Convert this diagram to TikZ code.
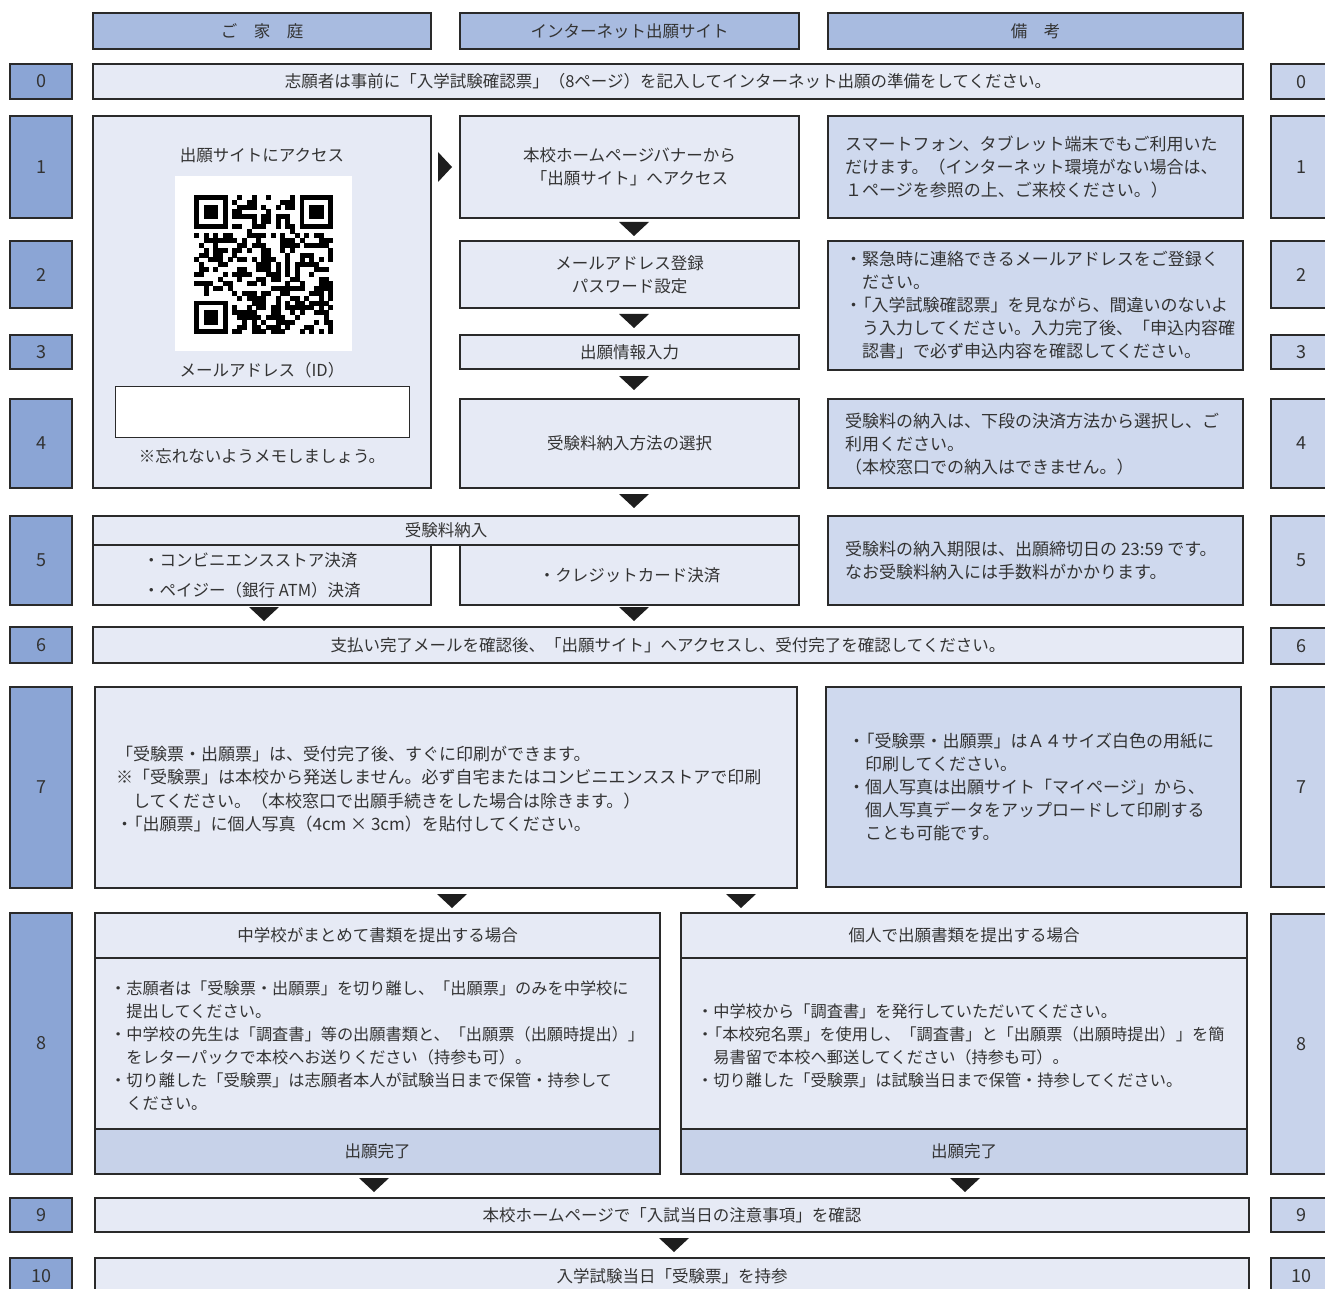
\documentclass[tikz,border=0pt]{standalone}
\usepackage{fontspec}
\setmainfont{Noto Sans CJK JP}
\usetikzlibrary{fit}
\definecolor{numL}{HTML}{8BA5D5}
\definecolor{numR}{HTML}{C8D3EB}
\definecolor{headc}{HTML}{A8BBE0}
\definecolor{mainc}{HTML}{E6EAF5}
\definecolor{remc}{HTML}{CFD9EE}
\definecolor{bandc}{HTML}{C7D2E9}
\definecolor{bordc}{HTML}{2A2A2A}
\definecolor{txtc}{HTML}{333333}
\definecolor{tric}{HTML}{1E1E1E}
\newcommand\bk{\kern-0.45em}
\tikzset{
 box/.style={draw=bordc, line width=1.3pt, inner sep=0pt},
 numl/.style={box, fill=numL},
 numr/.style={box, fill=numR},
 headbox/.style={box, fill=headc},
 mainbox/.style={box, fill=mainc},
 rembox/.style={box, fill=remc},
 bandbox/.style={box, fill=bandc},
 whitebox/.style={box, fill=white, line width=1pt},
 qrbg/.style={box, fill=white, draw=none},
 txt/.style={inner sep=0pt, text=txtc, font=\fontsize{16.5}{23}\selectfont, align=left},
 ctxt/.style={txt, align=center},
 remtxt/.style={txt, font=\fontsize{17}{23}\selectfont},
 bigtxt/.style={txt, font=\fontsize{17}{23.3}\selectfont},
 numtxt/.style={txt, font=\fontsize{18}{20}\selectfont},
 smalltxt/.style={txt, font=\fontsize{16.2}{23}\selectfont},
 paytxt/.style={txt, font=\fontsize{16.5}{30}\selectfont},
 dtri/.pic={\fill[tric] (-15,-7) -- (15,-7) -- (0,7) -- cycle;},
 rtri/.pic={\fill[tric] (-7,-15) -- (7,0) -- (-7,15) -- cycle;}
}
% name, style, x1, y1, x2, y2, text (text placed centred in a separate node)
\newcommand\flbox[7]{\node[#2, fit={(#3,#4) (#5,#6)}] (#1) {};
 \node[ctxt] (#1t) at (#1.center) {#7};}
\newcommand\numbox[7]{\node[#2, fit={(#3,#4) (#5,#6)}] (#1) {};
 \node[numtxt] (#1t) at ({(#3+#5)/2},{(#4+#6)/2}) {#7};}
\begin{document}
\begin{tikzpicture}[x=1pt,y=-1pt]
\useasboundingbox (0,0) rectangle (1325,1289);
\clip (0,0) rectangle (1325,1289);
\fill[white] (0,0) rectangle (1325,1289);

% headers
\flbox{hA}{headbox}{93}{13}{431}{49}{ご　家　庭}
\flbox{hB}{headbox}{460}{13}{799}{49}{インターネット出願サイト}
\flbox{hC}{headbox}{828}{13}{1243}{49}{備　考}

% number boxes, left
\numbox{nL0}{numl}{10}{64}{72}{99}{0}
\numbox{nL1}{numl}{10}{116}{72}{218}{1}
\numbox{nL2}{numl}{10}{241}{72}{308}{2}
\numbox{nL3}{numl}{10}{335}{72}{369}{3}
\numbox{nL4}{numl}{10}{399}{72}{488}{4}
\numbox{nL5}{numl}{10}{516}{72}{605}{5}
\numbox{nL6}{numl}{10}{627}{72}{663}{6}
\numbox{nL7}{numl}{10}{687}{72}{888}{7}
\numbox{nL8}{numl}{10}{913}{72}{1174}{8}
\numbox{nL9}{numl}{10}{1198}{72}{1232}{9}
\node[numl, fit={(10,1258) (72,1300)}] (nL10) {};
\node[numtxt] (nL10t) at (41,1276) {10};

% number boxes, right
\node[numr, fit={(1271,64) (1335,99)}] (nR0) {};
\node[numr, fit={(1271,116) (1335,218)}] (nR1) {};
\node[numr, fit={(1271,241) (1335,308)}] (nR2) {};
\node[numr, fit={(1271,335) (1335,369)}] (nR3) {};
\node[numr, fit={(1271,399) (1335,488)}] (nR4) {};
\node[numr, fit={(1271,516) (1335,605)}] (nR5) {};
\node[numr, fit={(1271,628) (1335,664)}] (nR6) {};
\node[numr, fit={(1271,687) (1335,887)}] (nR7) {};
\node[numr, fit={(1271,914) (1335,1174)}] (nR8) {};
\node[numr, fit={(1271,1198) (1335,1232)}] (nR9) {};
\node[numr, fit={(1271,1258) (1335,1300)}] (nR10) {};
\foreach \y/\t [count=\k] in {82/0,167/1,275/2,352/3,443/4,560/5,646/6,787/7,1044/8,1215/9,1276/10}{
 \node[numtxt] (nRt\k) at (1301,\y) {\t};
}

% row 0
\flbox{r0}{mainbox}{93}{64}{1243}{99}{志願者は事前に「入学試験確認票」（8ページ）を記入してインターネット出願の準備をしてください。}

% family column
\node[mainbox, fit={(93,116) (431,488)}] (fam) {};
\node[ctxt] (famt1) at (262,155) {出願サイトにアクセス};
\node[qrbg, fit={(175,176) (352,351)}] (qr) {};
\begin{scope}[shift={(194,195)}]
 \pgfmathsetseed{4242}
 \foreach \i in {0,...,28}{\foreach \j in {0,...,28}{
  \pgfmathtruncatemacro\inf{((\i<8)&&(\j<8))||((\i>20)&&(\j<8))||((\i<8)&&(\j>20))?1:0}
  \pgfmathrandominteger{\rr}{0}{99}
  \ifnum\inf=0 \ifnum\rr<47 \fill[black] (\i*4.8,\j*4.8) rectangle ++(5.05,5.05); \fi\fi
 }}
 \foreach \cx/\cy in {0/0,22/0,0/22}{
  \fill[black] (\cx*4.8,\cy*4.8) rectangle ++(33.6,33.6);
  \fill[white] (\cx*4.8+4.8,\cy*4.8+4.8) rectangle ++(24,24);
  \fill[black] (\cx*4.8+9.6,\cy*4.8+9.6) rectangle ++(14.4,14.4);
 }
\end{scope}
\node[ctxt] (famt2) at (262,370) {メールアドレス（ID）};
\node[whitebox, fit={(115,386) (409,437)}] (mail) {};
\node[ctxt] (famt3) at (262,456) {※忘れないようメモしましょう。};

% internet column
\flbox{iA}{mainbox}{460}{116}{799}{218}{本校ホームページバナーから\\「出願サイト」へアクセス}
\flbox{iB}{mainbox}{460}{241}{799}{308}{メールアドレス登録\\パスワード設定}
\flbox{iC}{mainbox}{460}{335}{799}{369}{出願情報入力}
\flbox{iD}{mainbox}{460}{399}{799}{488}{受験料納入方法の選択}

% remarks
\node[rembox, fit={(828,116) (1243,218)}] (m1) {};
\node[remtxt, anchor=west] (m1t) at (845,167) {スマートフォン、タブレット端末でもご利用いた\\だけます。（インターネット環境がない場合は、\\１ページを参照の上、ご来校ください。）};
\node[rembox, fit={(828,241) (1243,370)}] (m2) {};
\node[remtxt, anchor=west] (m2t) at (845,305) {・緊急時に連絡できるメールアドレスをご登録く\\\hspace*{1em}ださい。\\・\bk「入学試験確認票」を見ながら、間違いのないよ\\\hspace*{1em}う入力してください。入力完了後、「申込内容確\\\hspace*{1em}認書」で必ず申込内容を確認してください。};
\node[rembox, fit={(828,399) (1243,488)}] (m4) {};
\node[remtxt, anchor=west] (m4t) at (845,444) {受験料の納入は、下段の決済方法から選択し、ご\\利用ください。\\（本校窓口での納入はできません。）};
\node[rembox, fit={(828,516) (1243,605)}] (m5) {};
\node[remtxt, anchor=west] (m5t) at (845,561) {受験料の納入期限は、出願締切日の 23:59 です。\\なお受験料納入には手数料がかかります。};

% payment
\flbox{pH}{mainbox}{93}{516}{799}{545}{受験料納入}
\node[mainbox, fit={(93,545) (431,605)}] (pL) {};
\node[paytxt, anchor=west] (pLt) at (143,575) {・コンビニエンスストア決済\\・ペイジー（銀行 ATM）決済};
\flbox{pR}{mainbox}{460}{545}{799}{605}{・クレジットカード決済}

% row 6
\flbox{r6}{mainbox}{93}{627}{1243}{663}{支払い完了メールを確認後、「出願サイト」へアクセスし、受付完了を確認してください。}

% row 7
\node[mainbox, fit={(95,687) (797,888)}] (r7) {};
\node[bigtxt, anchor=west] (r7t) at (116,789) {「受験票・出願票」は、受付完了後、すぐに印刷ができます。\\※「受験票」は本校から発送しません。必ず自宅またはコンビニエンスストアで印刷\\\hspace*{1em}してください。（本校窓口で出願手続きをした場合は除きます。）\\・\bk「出願票」に個人写真（4cm × 3cm）を貼付してください。};
\node[rembox, fit={(826,687) (1241,887)}] (m7) {};
\node[remtxt, anchor=west] (m7t) at (848,787) {・\bk「受験票・出願票」はＡ４サイズ白色の用紙に\\\hspace*{1em}印刷してください。\\・個人写真は出願サイト「マイページ」から、\\\hspace*{1em}個人写真データをアップロードして印刷する\\\hspace*{1em}ことも可能です。};

% row 8
\flbox{aH}{mainbox}{95}{913}{660}{958}{中学校がまとめて書類を提出する場合}
\node[mainbox, fit={(95,958) (660,1129)}] (aB) {};
\node[smalltxt, anchor=west] (aBt) at (110,1046) {・志願者は「受験票・出願票」を切り離し、「出願票」のみを中学校に\\\hspace*{1em}提出してください。\\・中学校の先生は「調査書」等の出願書類と、「出願票（出願時提出）」\\\hspace*{1em}をレターパックで本校へお送りください（持参も可）。\\・切り離した「受験票」は志願者本人が試験当日まで保管・持参して\\\hspace*{1em}ください。};
\flbox{aE}{bandbox}{95}{1129}{660}{1174}{出願完了}
\flbox{bH}{mainbox}{681}{913}{1247}{958}{個人で出願書類を提出する場合}
\node[mainbox, fit={(681,958) (1247,1129)}] (bB) {};
\node[smalltxt, anchor=west] (bBt) at (697,1046) {・中学校から「調査書」を発行していただいてください。\\・\bk「本校宛名票」を使用し、「調査書」と「出願票（出願時提出）」を簡\\\hspace*{1em}易書留で本校へ郵送してください（持参も可）。\\・切り離した「受験票」は試験当日まで保管・持参してください。};
\flbox{bE}{bandbox}{681}{1129}{1247}{1174}{出願完了}

% rows 9 and 10
\flbox{r9}{mainbox}{95}{1198}{1249}{1232}{本校ホームページで「入試当日の注意事項」を確認}
\node[mainbox, fit={(95,1258) (1249,1300)}] (r10) {};
\node[ctxt] (r10t) at (672,1276) {入学試験当日「受験票」を持参};

% flow markers
\pic at (445,167) {rtri};
\pic at (634,229) {dtri};
\pic at (634,321) {dtri};
\pic at (634,383) {dtri};
\pic at (634,501) {dtri};
\pic at (264,614) {dtri};
\pic at (634,614) {dtri};
\pic at (452,901) {dtri};
\pic at (741,901) {dtri};
\pic at (374,1185) {dtri};
\pic at (965,1185) {dtri};
\pic at (674,1245) {dtri};
\end{tikzpicture}
\end{document}
